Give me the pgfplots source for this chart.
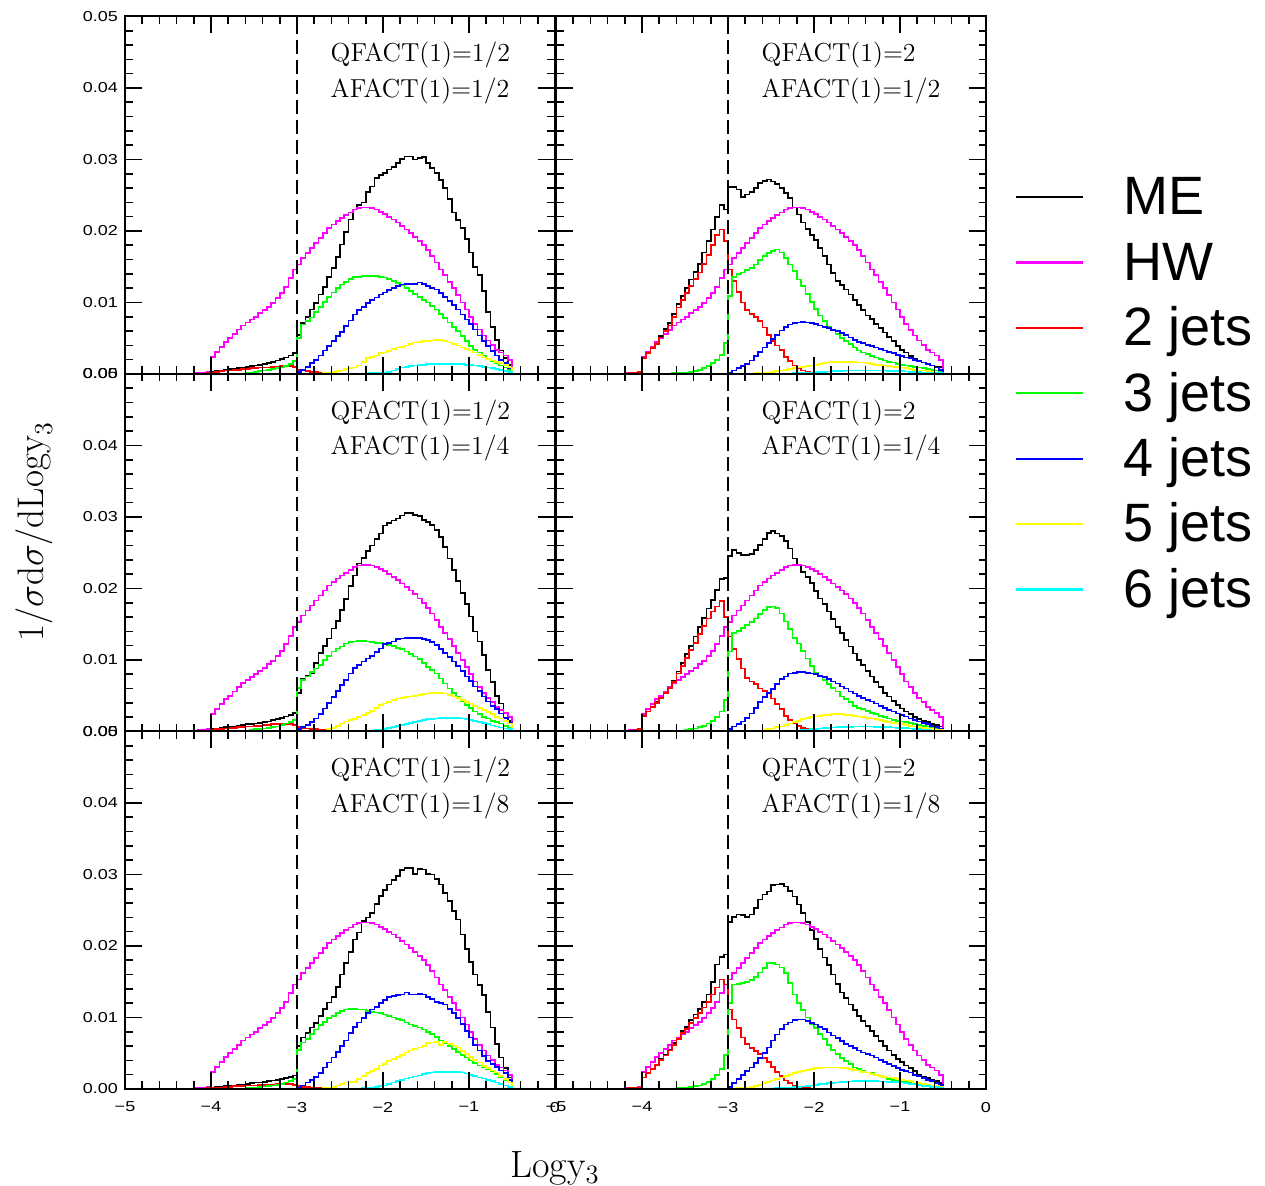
\RequirePackage{fix-cm}
\documentclass[border=0pt]{standalone}
\usepackage{pgfplots}
\pgfplotsset{compat=1.18}
\usepackage{pgfplotstable}
\usepackage{fontspec}
\newfontfamily\lsans{Liberation Sans}
\newfontfamily\ticksans{Liberation Sans}[FakeStretch=1.25]
\definecolor{cME}{rgb}{0,0,0}
\definecolor{cHW}{rgb}{1,0,1}
\definecolor{cJ2}{rgb}{1,0,0}
\definecolor{cJ3}{rgb}{0,1,0}
\definecolor{cJ4}{rgb}{0,0,1}
\definecolor{cJ5}{rgb}{1,1,0}
\definecolor{cJ6}{rgb}{0,1,1}

% values in units of 1e-3
\pgfplotstableread{
x hw
-4.20 0.1
-4.15 0.2
-4.10 0.2
-4.05 0.3
-4.00 2.4
-3.95 3.1
-3.90 3.8
-3.85 4.5
-3.80 5.0
-3.75 5.6
-3.70 6.2
-3.65 6.8
-3.60 7.2
-3.55 7.6
-3.50 8.0
-3.45 8.5
-3.40 8.9
-3.35 9.4
-3.30 9.9
-3.25 10.6
-3.20 11.3
-3.15 12.2
-3.10 13.4
-3.05 14.6
-3.00 15.3
-2.95 16.2
-2.90 16.9
-2.85 17.6
-2.80 18.3
-2.75 19.0
-2.70 19.7
-2.65 20.4
-2.60 20.9
-2.55 21.4
-2.50 21.8
-2.45 22.2
-2.40 22.6
-2.35 23.0
-2.30 23.2
-2.25 23.3
-2.20 23.3
-2.15 23.2
-2.10 23.0
-2.05 22.7
-2.00 22.4
-1.95 22.0
-1.90 21.6
-1.85 21.2
-1.80 20.7
-1.75 20.2
-1.70 19.7
-1.65 19.2
-1.60 18.6
-1.55 18.0
-1.50 17.3
-1.45 16.5
-1.40 15.6
-1.35 14.6
-1.30 13.8
-1.25 12.9
-1.20 12.0
-1.15 11.0
-1.10 10.0
-1.05 9.0
-1.00 8.0
-0.95 7.0
-0.90 6.2
-0.85 5.4
-0.80 4.7
-0.75 4.1
-0.70 3.4
-0.65 3.0
-0.60 2.6
-0.55 2.0
-0.50 0
}\tabHW

\pgfplotstableread{
x me r g b y c
-4.20 0.05 0 0 0 0 0
-4.15 0.1 0.05 0 0 0 0
-4.10 0.1 0.05 0 0 0 0
-4.05 0.2 0.1 0 0 0 0
-4.00 0.3 0.2 0 0 0 0
-3.95 0.4 0.3 0 0 0 0
-3.90 0.5 0.4 0 0 0 0
-3.85 0.6 0.5 0 0 0 0
-3.80 0.7 0.5 0 0 0 0
-3.75 0.7 0.6 0 0 0 0
-3.70 0.8 0.6 0 0 0 0
-3.65 0.9 0.7 0.05 0 0 0
-3.60 1.0 0.7 0.1 0 0 0
-3.55 1.1 0.8 0.2 0 0 0
-3.50 1.2 0.8 0.3 0 0 0
-3.45 1.3 0.9 0.4 0 0 0
-3.40 1.4 0.9 0.5 0 0 0
-3.35 1.5 0.9 0.6 0 0 0
-3.30 1.7 1.0 0.7 0 0 0
-3.25 1.9 1.0 0.8 0 0 0
-3.20 2.1 1.1 0.9 0 0 0
-3.15 2.3 1.1 1.1 0 0 0
-3.10 2.6 1.1 1.4 0 0 0
-3.05 2.9 1.0 1.8 0 0 0
-3.00 5.5 0.6 5.0 0.3 0 0
-2.95 7.1 0.5 6.9 0.6 0 0
-2.90 8.0 0.4 7.4 1.0 0 0
-2.85 9.0 0.3 7.9 1.5 0 0
-2.80 9.9 0.3 8.7 2.0 0 0
-2.75 11.1 0.2 9.4 2.6 0.05 0
-2.70 12.2 0.2 10.1 3.3 0.1 0
-2.65 13.6 0.1 10.8 3.9 0.2 0
-2.60 14.8 0.1 11.4 4.6 0.3 0
-2.55 16.4 0.05 12.0 5.3 0.4 0
-2.50 18.1 0.05 12.5 5.9 0.5 0
-2.45 19.9 0 12.9 6.7 0.7 0
-2.40 21.6 0 13.3 7.5 0.8 0
-2.35 23.0 0 13.6 8.3 0.9 0
-2.30 23.6 0 13.6 8.9 1.2 0.05
-2.25 24.0 0 13.7 9.4 1.7 0.05
-2.20 25.5 0 13.7 9.9 2.2 0.1
-2.15 26.2 0 13.7 10.3 2.4 0.1
-2.10 27.4 0 13.7 10.7 2.6 0.15
-2.05 27.8 0 13.6 11.1 2.9 0.2
-2.00 28.1 0 13.5 11.4 3.0 0.2
-1.95 28.6 0 13.3 11.7 3.2 0.3
-1.90 28.9 0 13.0 12.0 3.5 0.5
-1.85 29.5 0 12.7 12.3 3.7 0.7
-1.80 30.1 0 12.4 12.5 3.8 0.9
-1.75 30.4 0 12.0 12.6 4.0 1.0
-1.70 30.4 0 11.6 12.6 4.2 1.1
-1.65 30.0 0 11.2 12.6 4.4 1.2
-1.60 30.2 0 10.8 12.8 4.5 1.3
-1.55 30.3 0 10.3 12.6 4.6 1.3
-1.50 29.5 0 10.0 12.3 4.6 1.4
-1.45 28.8 0 9.5 12.0 4.7 1.4
-1.40 28.1 0 9.0 11.8 4.8 1.4
-1.35 27.1 0 8.4 11.3 4.8 1.4
-1.30 26.0 0 7.8 10.8 4.6 1.4
-1.25 24.5 0 7.2 10.2 4.4 1.4
-1.20 22.6 0 6.6 9.6 4.2 1.4
-1.15 21.5 0 6.0 9.0 4.0 1.4
-1.10 20.4 0 5.3 8.3 3.7 1.4
-1.05 18.9 0 4.6 7.6 3.5 1.3
-1.00 17.0 0 3.9 7.0 3.3 1.3
-0.95 15.0 0 3.4 6.2 3.0 1.2
-0.90 13.8 0 3.0 5.4 2.7 1.1
-0.85 11.6 0 2.6 4.6 2.3 1.0
-0.80 8.7 0 2.1 3.9 2.1 0.9
-0.75 6.6 0 1.8 3.2 1.9 0.8
-0.70 4.8 0 1.5 2.6 1.7 0.7
-0.65 3.3 0 1.2 2.0 1.5 0.6
-0.60 2.2 0 0.9 1.5 1.3 0.4
-0.55 1.3 0 0.6 0.8 0.9 0.3
-0.50 0 0 0 0 0 0
}\tabTL

\pgfplotstableread{
x me r g b y c
-4.20 0.05 0.05 0 0 0 0
-4.15 0.1 0.1 0 0 0 0
-4.10 0.2 0.2 0 0 0 0
-4.05 0.3 0.3 0 0 0 0
-4.00 2.2 2.2 0 0 0 0
-3.95 2.9 2.9 0 0 0 0
-3.90 3.7 3.6 0 0 0 0
-3.85 4.3 4.2 0 0 0 0
-3.80 5.3 5.1 0 0 0 0
-3.75 6.3 6.0 0 0 0 0
-3.70 7.1 6.8 0.05 0 0 0
-3.65 8.4 8.0 0.1 0 0 0
-3.60 9.8 9.3 0.1 0 0 0
-3.55 10.9 10.3 0.2 0 0 0
-3.50 12.0 11.3 0.2 0 0 0
-3.45 13.2 12.3 0.3 0 0 0
-3.40 14.3 13.3 0.4 0 0 0
-3.35 15.4 14.2 0.6 0 0 0
-3.30 17.0 15.4 0.8 0 0 0
-3.25 18.6 16.6 1.1 0 0 0
-3.20 20.2 18.0 1.5 0 0 0
-3.15 22.0 19.4 2.0 0 0 0
-3.10 23.6 20.2 2.7 0 0 0
-3.05 23.0 18.6 4.3 0 0 0
-3.00 26.2 14.6 10.9 0.2 0 0
-2.95 26.2 13.0 13.6 0.5 0 0
-2.90 25.8 11.5 14.0 0.8 0 0
-2.85 24.8 10.0 14.2 1.1 0 0
-2.80 25.1 8.9 14.5 1.4 0 0
-2.75 25.5 8.4 14.8 1.9 0.05 0
-2.70 26.0 8.0 15.3 2.5 0.1 0
-2.65 26.7 7.4 15.9 3.1 0.1 0
-2.60 27.0 6.5 16.5 3.7 0.15 0
-2.55 27.2 5.5 16.9 4.3 0.2 0
-2.50 26.9 4.6 17.2 4.9 0.3 0
-2.45 26.6 4.0 17.4 5.5 0.4 0
-2.40 26.0 3.4 17.0 6.1 0.5 0
-2.35 25.3 2.4 16.2 6.6 0.6 0.05
-2.30 24.6 1.8 15.3 6.9 0.7 0.05
-2.25 23.3 1.2 14.4 7.1 0.8 0.1
-2.20 22.3 0.8 13.2 7.2 0.9 0.1
-2.15 21.2 0.5 12.3 7.3 1.0 0.15
-2.10 20.3 0.3 11.2 7.2 1.1 0.2
-2.05 19.4 0.2 10.1 7.1 1.2 0.2
-2.00 18.7 0.1 9.1 7.0 1.3 0.25
-1.95 17.6 0.1 8.2 6.8 1.4 0.3
-1.90 16.5 0.05 7.4 6.6 1.5 0.3
-1.85 15.3 0.05 6.6 6.4 1.6 0.35
-1.80 14.1 0.05 6.1 6.2 1.7 0.4
-1.75 13.0 0 5.6 6.0 1.7 0.4
-1.70 12.4 0 5.0 5.7 1.7 0.45
-1.65 11.8 0 4.6 5.5 1.7 0.5
-1.60 11.1 0 4.2 5.1 1.7 0.5
-1.55 10.3 0 3.7 4.8 1.7 0.5
-1.50 9.6 0 3.3 4.5 1.6 0.5
-1.45 8.9 0 3.0 4.3 1.6 0.5
-1.40 8.2 0 2.8 4.1 1.5 0.5
-1.35 7.7 0 2.5 3.9 1.4 0.5
-1.30 7.0 0 2.3 3.7 1.3 0.5
-1.25 6.4 0 2.1 3.5 1.3 0.5
-1.20 5.8 0 1.9 3.3 1.2 0.5
-1.15 5.2 0 1.7 3.1 1.1 0.45
-1.10 4.6 0 1.6 2.9 1.0 0.45
-1.05 3.9 0 1.4 2.7 1.0 0.4
-1.00 3.4 0 1.3 2.5 0.9 0.4
-0.95 3.0 0 1.2 2.3 0.8 0.35
-0.90 2.5 0 1.1 2.2 0.7 0.3
-0.85 2.1 0 1.0 2.0 0.6 0.3
-0.80 1.8 0 0.9 1.8 0.5 0.25
-0.75 1.6 0 0.8 1.6 0.5 0.2
-0.70 1.4 0 0.7 1.4 0.4 0.2
-0.65 1.2 0 0.6 1.2 0.3 0.15
-0.60 1.0 0 0.5 0.9 0.2 0.1
-0.55 1.0 0 0.4 0.6 0.2 0.1
-0.50 0 0 0 0 0 0
}\tabTR

\pgfplotstableread{
x me r g b y c
-4.20 0.05 0 0 0 0 0
-4.15 0.1 0.05 0 0 0 0
-4.10 0.1 0.05 0 0 0 0
-4.05 0.2 0.1 0 0 0 0
-4.00 0.3 0.2 0 0 0 0
-3.95 0.4 0.3 0 0 0 0
-3.90 0.5 0.3 0 0 0 0
-3.85 0.6 0.4 0 0 0 0
-3.80 0.6 0.5 0 0 0 0
-3.75 0.7 0.5 0 0 0 0
-3.70 0.8 0.6 0 0 0 0
-3.65 0.9 0.6 0.05 0 0 0
-3.60 1.0 0.7 0.1 0 0 0
-3.55 1.0 0.7 0.2 0 0 0
-3.50 1.1 0.8 0.3 0 0 0
-3.45 1.2 0.8 0.3 0 0 0
-3.40 1.3 0.9 0.4 0 0 0
-3.35 1.4 0.9 0.5 0 0 0
-3.30 1.6 1.0 0.6 0 0 0
-3.25 1.7 1.0 0.7 0 0 0
-3.20 1.9 1.0 0.9 0 0 0
-3.15 2.1 1.0 1.1 0 0 0
-3.10 2.3 1.0 1.3 0 0 0
-3.05 2.6 0.9 1.6 0 0 0
-3.00 5.4 0.6 6.1 0.3 0 0
-2.95 7.3 0.5 7.2 0.6 0 0
-2.90 7.8 0.4 7.7 0.9 0 0
-2.85 8.2 0.3 8.3 1.3 0 0
-2.80 9.6 0.3 8.8 1.8 0 0
-2.75 11.0 0.2 9.3 2.4 0.05 0
-2.70 12.0 0.2 10.0 3.2 0.1 0
-2.65 13.0 0.1 10.6 4.0 0.3 0
-2.60 14.4 0.1 11.2 4.8 0.5 0
-2.55 15.5 0.05 11.6 5.7 0.8 0
-2.50 17.0 0.05 11.9 6.5 1.1 0
-2.45 18.5 0 12.3 7.2 1.4 0
-2.40 20.3 0 12.5 8.1 1.6 0
-2.35 21.8 0 12.6 8.9 1.7 0
-2.30 23.5 0 12.7 9.3 2.0 0.05
-2.25 24.3 0 12.7 9.8 2.3 0.05
-2.20 25.2 0 12.6 10.2 2.6 0.1
-2.15 26.0 0 12.5 10.6 2.9 0.15
-2.10 26.9 0 12.4 11.1 3.3 0.2
-2.05 27.7 0 12.4 11.6 3.7 0.25
-2.00 28.8 0 12.3 12.2 3.9 0.3
-1.95 29.2 0 12.1 12.4 4.1 0.45
-1.90 29.5 0 12.0 12.6 4.4 0.6
-1.85 29.8 0 11.7 12.9 4.6 0.75
-1.80 30.2 0 11.5 13.0 4.7 0.9
-1.75 30.6 0 11.2 13.1 4.8 1.05
-1.70 30.6 0 10.8 13.1 4.9 1.2
-1.65 30.3 0 10.5 13.1 5.0 1.35
-1.60 30.1 0 10.1 13.1 5.1 1.5
-1.55 29.6 0 9.6 12.9 5.2 1.6
-1.50 29.3 0 9.0 12.8 5.3 1.7
-1.45 28.9 0 8.6 12.5 5.4 1.75
-1.40 28.2 0 8.1 12.1 5.4 1.8
-1.35 27.2 0 7.4 11.5 5.4 1.85
-1.30 25.8 0 6.7 11.0 5.3 1.9
-1.25 24.2 0 6.0 10.4 5.1 1.9
-1.20 22.6 0 5.4 9.8 4.9 1.9
-1.15 21.0 0 4.8 9.2 4.7 1.85
-1.10 19.4 0 4.2 8.5 4.4 1.8
-1.05 17.8 0 3.7 7.7 4.1 1.7
-1.00 16.1 0 3.3 7.1 3.9 1.6
-0.95 14.0 0 2.8 6.3 3.6 1.45
-0.90 12.6 0 2.4 5.7 3.3 1.3
-0.85 10.7 0 2.0 4.9 3.0 1.15
-0.80 8.6 0 1.8 4.2 2.7 1.0
-0.75 6.9 0 1.5 3.6 2.4 0.85
-0.70 5.0 0 1.3 3.1 2.0 0.7
-0.65 3.9 0 1.1 2.5 1.8 0.55
-0.60 2.6 0 0.8 1.9 1.5 0.4
-0.55 1.5 0 0.5 1.2 1.1 0.3
-0.50 0 0 0 0 0 0
}\tabML

\pgfplotstableread{
x me r g b y c
-4.20 0.05 0.05 0 0 0 0
-4.15 0.1 0.1 0 0 0 0
-4.10 0.2 0.2 0 0 0 0
-4.05 0.3 0.3 0 0 0 0
-4.00 2.2 2.2 0 0 0 0
-3.95 2.8 2.8 0 0 0 0
-3.90 3.5 3.4 0 0 0 0
-3.85 4.1 4.0 0 0 0 0
-3.80 4.8 4.7 0 0 0 0
-3.75 5.6 5.4 0 0 0 0
-3.70 6.3 6.1 0 0 0 0
-3.65 7.1 6.9 0.05 0 0 0
-3.60 8.4 8.1 0.1 0 0 0
-3.55 9.6 9.2 0.1 0 0 0
-3.50 10.8 10.3 0.2 0 0 0
-3.45 12.0 11.4 0.3 0 0 0
-3.40 13.3 12.4 0.4 0 0 0
-3.35 14.6 13.6 0.6 0 0 0
-3.30 15.9 14.8 0.8 0 0 0
-3.25 17.2 15.8 1.1 0 0 0
-3.20 18.4 16.8 1.5 0 0 0
-3.15 19.8 17.5 2.0 0 0 0
-3.10 21.3 18.2 2.8 0 0 0
-3.05 21.5 16.0 4.4 0 0 0
-3.00 24.5 13.3 11.2 0.3 0 0
-2.95 25.4 11.5 13.8 0.7 0 0
-2.90 25.0 10.1 14.1 1.0 0 0
-2.85 24.7 8.8 14.5 1.4 0 0
-2.80 24.7 7.5 14.9 1.9 0 0
-2.75 24.8 7.0 15.3 2.5 0.05 0
-2.70 25.4 6.6 15.8 3.3 0.1 0
-2.65 26.1 6.0 16.4 4.1 0.15 0
-2.60 26.9 5.7 17.0 4.8 0.2 0
-2.55 27.8 5.3 17.4 5.4 0.3 0
-2.50 28.0 4.6 17.5 5.9 0.4 0
-2.45 27.7 3.8 17.3 6.6 0.6 0
-2.40 27.3 3.1 16.5 7.3 0.7 0.05
-2.35 26.6 2.2 15.4 7.7 0.9 0.05
-2.30 25.6 1.6 14.3 8.1 1.1 0.1
-2.25 24.2 1.2 13.1 8.2 1.3 0.1
-2.20 23.3 0.8 12.3 8.3 1.5 0.15
-2.15 22.3 0.5 11.3 8.3 1.7 0.2
-2.10 21.6 0.3 10.2 8.2 1.9 0.25
-2.05 20.8 0.2 9.2 8.1 2.0 0.3
-2.00 19.6 0.1 8.2 8.0 2.1 0.35
-1.95 18.6 0.1 7.7 7.8 2.2 0.4
-1.90 17.8 0.05 7.2 7.6 2.3 0.45
-1.85 16.8 0.05 6.6 7.3 2.35 0.5
-1.80 15.7 0.05 6.1 7.0 2.4 0.55
-1.75 14.6 0 5.6 6.7 2.4 0.6
-1.70 13.8 0 4.9 6.3 2.4 0.6
-1.65 12.8 0 4.5 6.0 2.35 0.65
-1.60 11.9 0 4.1 5.6 2.3 0.65
-1.55 10.9 0 3.6 5.3 2.2 0.7
-1.50 10.0 0 3.3 5.0 2.1 0.7
-1.45 9.3 0 3.1 4.7 2.0 0.7
-1.40 8.5 0 2.9 4.4 1.9 0.7
-1.35 7.7 0 2.6 4.2 1.8 0.7
-1.30 6.9 0 2.4 3.9 1.7 0.65
-1.25 6.2 0 2.2 3.6 1.6 0.65
-1.20 5.4 0 2.0 3.3 1.5 0.6
-1.15 4.9 0 1.8 3.0 1.35 0.6
-1.10 4.3 0 1.6 2.8 1.2 0.55
-1.05 3.7 0 1.5 2.5 1.1 0.5
-1.00 3.2 0 1.4 2.3 1.0 0.5
-0.95 2.8 0 1.3 2.1 0.9 0.45
-0.90 2.4 0 1.2 1.8 0.8 0.4
-0.85 2.0 0 1.0 1.6 0.7 0.35
-0.80 1.7 0 0.9 1.4 0.6 0.3
-0.75 1.5 0 0.8 1.2 0.5 0.25
-0.70 1.3 0 0.7 1.0 0.4 0.2
-0.65 1.0 0 0.5 0.8 0.3 0.15
-0.60 0.9 0 0.4 0.6 0.2 0.1
-0.55 0.7 0 0.3 0.4 0.2 0.1
-0.50 0 0 0 0 0 0
}\tabMR

\pgfplotstableread{
x me r g b y c
-4.20 0.05 0 0 0 0 0
-4.15 0.05 0.05 0 0 0 0
-4.10 0.1 0.05 0 0 0 0
-4.05 0.1 0.1 0 0 0 0
-4.00 0.2 0.1 0 0 0 0
-3.95 0.3 0.2 0 0 0 0
-3.90 0.3 0.2 0 0 0 0
-3.85 0.4 0.3 0 0 0 0
-3.80 0.5 0.3 0 0 0 0
-3.75 0.5 0.4 0 0 0 0
-3.70 0.6 0.4 0 0 0 0
-3.65 0.6 0.4 0.05 0 0 0
-3.60 0.7 0.5 0.1 0 0 0
-3.55 0.8 0.5 0.15 0 0 0
-3.50 0.9 0.5 0.2 0 0 0
-3.45 0.9 0.6 0.3 0 0 0
-3.40 1.0 0.6 0.35 0 0 0
-3.35 1.1 0.6 0.4 0 0 0
-3.30 1.2 0.6 0.5 0 0 0
-3.25 1.3 0.7 0.6 0 0 0
-3.20 1.4 0.7 0.7 0 0 0
-3.15 1.5 0.7 0.9 0 0 0
-3.10 1.7 0.7 1.1 0 0 0
-3.05 1.9 0.6 1.4 0 0 0
-3.00 6.0 0.4 5.5 0.2 0 0
-2.95 7.2 0.3 6.5 0.5 0 0
-2.90 7.8 0.3 7.0 0.9 0 0
-2.85 8.6 0.2 7.7 1.3 0 0
-2.80 9.2 0.2 8.3 1.7 0 0
-2.75 10.2 0.1 8.9 2.2 0.05 0
-2.70 11.2 0.1 9.4 3.0 0.1 0
-2.65 12.1 0.05 9.9 3.7 0.2 0
-2.60 12.9 0.05 10.2 4.4 0.3 0
-2.55 14.3 0 10.6 5.2 0.5 0
-2.50 16.0 0 10.9 6.0 0.7 0
-2.45 17.6 0 11.1 6.8 0.9 0
-2.40 19.2 0 11.2 7.8 1.0 0
-2.35 20.9 0 11.2 8.7 1.0 0.05
-2.30 21.9 0 11.1 9.3 1.4 0.05
-2.25 23.5 0 11.1 9.9 1.8 0.1
-2.20 24.0 0 10.9 10.6 2.2 0.1
-2.15 24.6 0 10.8 11.1 2.5 0.2
-2.10 25.9 0 10.7 11.5 2.8 0.3
-2.05 27.0 0 10.6 12.0 3.3 0.4
-2.00 27.8 0 10.4 12.4 3.5 0.5
-1.95 28.6 0 10.2 12.9 3.9 0.7
-1.90 29.2 0 10.0 13.0 4.2 0.9
-1.85 29.8 0 9.8 13.1 4.5 1.1
-1.80 30.6 0 9.6 13.2 4.8 1.3
-1.75 30.9 0 9.3 13.5 5.1 1.45
-1.70 30.9 0 9.0 13.2 5.4 1.6
-1.65 30.1 0 8.8 13.2 5.6 1.75
-1.60 30.8 0 8.6 13.3 5.8 1.9
-1.55 30.7 0 8.3 13.2 6.0 2.05
-1.50 30.1 0 8.0 12.9 6.4 2.2
-1.45 30.0 0 7.7 12.6 6.5 2.3
-1.40 29.4 0 7.3 12.2 6.6 2.35
-1.35 28.6 0 6.8 12.0 6.2 2.4
-1.30 27.4 0 6.4 11.8 6.6 2.4
-1.25 26.3 0 6.0 11.2 6.3 2.4
-1.20 24.9 0 5.6 10.6 6.1 2.4
-1.15 23.7 0 5.2 9.9 5.8 2.35
-1.10 21.6 0 4.8 9.1 5.3 2.3
-1.05 19.6 0 4.4 8.1 4.9 2.15
-1.00 17.8 0 4.0 7.2 4.5 2.0
-0.95 16.0 0 3.6 6.2 4.1 1.8
-0.90 14.5 0 3.3 5.4 3.7 1.6
-0.85 13.1 0 3.0 4.6 3.2 1.45
-0.80 10.8 0 2.8 3.9 2.9 1.3
-0.75 8.6 0 2.5 3.5 2.6 1.1
-0.70 6.3 0 2.1 3.1 2.3 0.9
-0.65 4.4 0 1.6 2.6 1.8 0.7
-0.60 2.9 0 1.2 2.2 1.4 0.5
-0.55 1.6 0 0.9 1.3 0.9 0.3
-0.50 0 0 0 0 0 0
}\tabBL

\pgfplotstableread{
x me r g b y c
-4.20 0.05 0.05 0 0 0 0
-4.15 0.1 0.1 0 0 0 0
-4.10 0.15 0.15 0 0 0 0
-4.05 0.2 0.2 0 0 0 0
-4.00 1.6 1.6 0 0 0 0
-3.95 2.2 2.2 0 0 0 0
-3.90 2.8 2.8 0 0 0 0
-3.85 3.4 3.4 0 0 0 0
-3.80 4.2 4.1 0 0 0 0
-3.75 4.8 4.7 0 0 0 0
-3.70 5.5 5.4 0 0 0 0
-3.65 6.4 6.2 0.05 0 0 0
-3.60 7.2 7.0 0.1 0 0 0
-3.55 8.1 7.8 0.1 0 0 0
-3.50 8.7 8.4 0.2 0 0 0
-3.45 9.6 9.2 0.3 0 0 0
-3.40 10.4 9.9 0.4 0 0 0
-3.35 11.2 10.6 0.5 0 0 0
-3.30 12.2 11.4 0.7 0 0 0
-3.25 13.2 12.2 1.0 0 0 0
-3.20 15.0 13.2 1.4 0 0 0
-3.15 17.4 14.2 2.0 0 0 0
-3.10 18.5 15.3 2.8 0 0 0
-3.05 18.8 14.6 4.8 0 0 0
-3.00 23.4 11.1 12.0 0.3 0 0
-2.95 24.1 9.7 14.6 0.8 0 0
-2.90 24.4 8.5 14.7 1.4 0.1 0
-2.85 24.3 7.2 14.8 2.0 0.15 0
-2.80 24.1 6.3 15.0 2.5 0.2 0
-2.75 24.4 5.7 15.2 3.0 0.3 0
-2.70 25.3 5.3 15.7 3.6 0.4 0
-2.65 26.5 4.9 16.3 4.3 0.6 0
-2.60 27.2 4.3 16.9 5.0 0.8 0
-2.55 27.6 3.8 17.6 5.8 1.0 0.05
-2.50 28.5 3.1 17.6 6.8 1.2 0.05
-2.45 28.6 2.4 17.4 7.6 1.4 0.1
-2.40 28.7 1.8 17.0 8.4 1.6 0.1
-2.35 28.3 1.2 16.2 9.0 1.8 0.15
-2.30 27.7 0.8 14.8 9.3 2.0 0.2
-2.25 26.9 0.5 13.2 9.6 2.2 0.25
-2.20 25.8 0.3 12.0 9.7 2.4 0.3
-2.15 24.6 0.2 11.0 9.7 2.5 0.35
-2.10 23.4 0.1 10.0 9.5 2.7 0.4
-2.05 22.2 0.05 9.1 9.2 2.8 0.5
-2.00 21.0 0.05 8.5 9.0 2.9 0.55
-1.95 19.6 0 7.7 8.7 2.9 0.65
-1.90 18.4 0 7.0 8.4 3.0 0.7
-1.85 17.3 0 6.2 7.9 3.0 0.8
-1.80 16.0 0 5.5 7.5 3.0 0.85
-1.75 14.7 0 4.9 7.1 3.0 0.9
-1.70 13.5 0 4.3 6.7 2.9 0.95
-1.65 12.7 0 3.9 6.3 2.9 1.0
-1.60 11.8 0 3.5 6.0 2.8 1.05
-1.55 11.0 0 3.0 5.7 2.7 1.1
-1.50 10.2 0 2.8 5.4 2.6 1.1
-1.45 9.5 0 2.5 5.1 2.4 1.1
-1.40 8.8 0 2.3 4.9 2.3 1.1
-1.35 8.1 0 2.2 4.7 2.1 1.1
-1.30 7.4 0 2.0 4.4 2.0 1.1
-1.25 6.7 0 1.8 4.1 1.8 1.05
-1.20 6.0 0 1.6 3.8 1.7 1.05
-1.15 5.4 0 1.4 3.5 1.6 1.0
-1.10 4.8 0 1.3 3.2 1.5 1.0
-1.05 4.2 0 1.2 2.9 1.4 0.95
-1.00 3.8 0 1.1 2.7 1.3 0.9
-0.95 3.3 0 1.0 2.5 1.2 0.8
-0.90 2.9 0 0.9 2.3 1.1 0.7
-0.85 2.5 0 0.8 2.0 0.9 0.65
-0.80 2.0 0 0.7 1.8 0.8 0.55
-0.75 1.7 0 0.6 1.5 0.7 0.45
-0.70 1.5 0 0.5 1.3 0.6 0.4
-0.65 1.3 0 0.4 1.1 0.5 0.3
-0.60 1.1 0 0.3 0.8 0.4 0.25
-0.55 0.8 0 0.3 0.6 0.3 0.2
-0.50 0 0 0 0 0 0
}\tabBR

\pgfplotsset{
  panel/.style={
    scale only axis, width=215pt, height=178.75pt,
    anchor=south west,
    xmin=-5, xmax=0, ymin=0, ymax=50,
    xtick={-5,-4,-3,-2,-1,0}, ytick={0,10,20,30,40,50},
    minor x tick num=4, minor y tick num=4,
    tick align=inside,
    major tick length=8.5pt, minor tick length=3.75pt,
    every tick/.style={black, line width=0.8pt},
    axis line style={line width=1pt},
    axis on top,
    xticklabels={}, yticklabels={},
    tick label style={font=\ticksans\fontsize{7.2}{8}\selectfont},
    xticklabel style={yshift=-3pt},
    every axis plot/.append style={const plot mark left, line width=0.85pt, no marks},
  },
  leftp/.style={yticklabels={0.00,0.01,0.02,0.03,0.04,0.05}},
  botp/.style={xticklabels={−5,−4,−3,−2,−1,0}},
  dashline/.style={black, line width=1pt, dash pattern=on 7pt off 3pt, forget plot},
}
\tikzset{annot/.style={anchor=base west, font=\fontsize{13}{15}\selectfont}}

\newcommand{\panelplots}[1]{%
  \addplot[cME] table[x=x,y=me]{#1};
  \addplot[cHW] table[x=x,y=hw]{\tabHW};
  \addplot[cJ2] table[x=x,y=r]{#1};
  \addplot[cJ3] table[x=x,y=g]{#1};
  \addplot[cJ4] table[x=x,y=b]{#1};
  \addplot[cJ5] table[x=x,y=y]{#1};
  \addplot[cJ6] table[x=x,y=c]{#1};
  \addplot[dashline] coordinates {(-3,0) (-3,50)};
}

\begin{document}
\begin{tikzpicture}
\useasboundingbox (0,0) rectangle (632.5pt,593pt);

% top left
\begin{axis}[panel, leftp, at={(62.5pt,406pt)}]
\panelplots{\tabTL}
\node[annot] at (axis cs:-2.69,43.7) {QFACT(1)=1/2};
\node[annot] at (axis cs:-2.69,38.7) {AFACT(1)=1/2};
\end{axis}

% top right (with legend)
\begin{axis}[panel, at={(278pt,406pt)},
  legend style={at={(1.0674,0.5527)}, anchor=north west, draw=none, fill=none,
    inner sep=0pt, outer sep=0pt, row sep=11.9pt, column sep=19.5pt,
    font=\lsans\fontsize{27}{29}\selectfont,
    nodes={inner sep=0pt, outer sep=0pt},
    /tikz/every even column/.append style={text height=19.3pt, text depth=0pt}},
  legend cell align=left,
  legend image code/.code={\draw[#1, line width=1.1pt] (0pt,0pt) -- (33.5pt,0pt);},
]
\panelplots{\tabTR}
\node[annot] at (axis cs:-2.69,43.7) {QFACT(1)=2};
\node[annot] at (axis cs:-2.69,38.7) {AFACT(1)=1/2};
\legend{ME,HW,2 jets,3 jets,4 jets,5 jets,6 jets}
\end{axis}

% middle left
\begin{axis}[panel, leftp, at={(62.5pt,227.25pt)}]
\panelplots{\tabML}
\node[annot] at (axis cs:-2.69,43.7) {QFACT(1)=1/2};
\node[annot] at (axis cs:-2.69,38.7) {AFACT(1)=1/4};
\end{axis}

% middle right
\begin{axis}[panel, at={(278pt,227.25pt)}]
\panelplots{\tabMR}
\node[annot] at (axis cs:-2.69,43.7) {QFACT(1)=2};
\node[annot] at (axis cs:-2.69,38.7) {AFACT(1)=1/4};
\end{axis}

% bottom left
\begin{axis}[panel, leftp, botp, at={(62.5pt,48.5pt)}]
\panelplots{\tabBL}
\node[annot] at (axis cs:-2.69,43.7) {QFACT(1)=1/2};
\node[annot] at (axis cs:-2.69,38.7) {AFACT(1)=1/8};
\end{axis}

% bottom right
\begin{axis}[panel, botp, at={(278pt,48.5pt)}]
\panelplots{\tabBR}
\node[annot] at (axis cs:-2.69,43.7) {QFACT(1)=2};
\node[annot] at (axis cs:-2.69,38.7) {AFACT(1)=1/8};
\end{axis}

\node[rotate=90, font=\fontsize{18.5}{20}\selectfont] at (17pt,327pt) {$1/\sigma\mathrm{d}\sigma/\mathrm{dLogy}_3$};
\node[anchor=base, font=\fontsize{19}{20}\selectfont] at (277.5pt,4pt) {Logy$_3$};
\end{tikzpicture}
\end{document}
